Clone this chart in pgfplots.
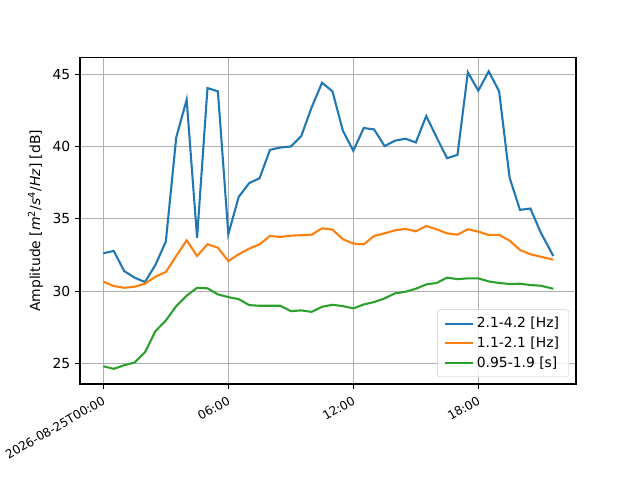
\documentclass[border=0pt]{standalone}
\usepackage{fontspec}
\setmainfont{DejaVu Sans}
\usepackage{pgfplots}
\usepackage{pgfplotstable}
\pgfplotsset{compat=1.18}
\definecolor{C0}{HTML}{1F77B4}
\definecolor{C1}{HTML}{FF7F0E}
\definecolor{C2}{HTML}{2CA02C}
\definecolor{gridc}{HTML}{B0B0B0}
\definecolor{legc}{HTML}{CCCCCC}
\pgfplotstableread{
x a b c
0.0 32.62 30.65 24.79
0.5 32.78 30.35 24.61
1.0 31.39 30.23 24.86
1.5 30.93 30.30 25.05
2.0 30.63 30.51 25.76
2.5 31.81 31.00 27.22
3.0 33.43 31.32 27.96
3.5 40.65 32.43 28.96
4.0 43.26 33.52 29.68
4.5 33.70 32.43 30.23
5.0 44.07 33.24 30.19
5.5 43.84 33.01 29.77
6.0 33.94 32.08 29.58
6.5 36.53 32.55 29.44
7.0 37.48 32.94 29.03
7.5 37.82 33.24 28.98
8.0 39.79 33.82 28.98
8.5 39.95 33.75 28.98
9.0 40.02 33.84 28.61
9.5 40.74 33.87 28.66
10.0 42.73 33.91 28.56
10.5 44.44 34.35 28.91
11.0 43.84 34.26 29.05
11.5 41.11 33.59 28.96
12.0 39.72 33.29 28.80
12.5 41.30 33.24 29.07
13.0 41.20 33.82 29.24
13.5 40.05 34.00 29.49
14.0 40.42 34.21 29.84
14.5 40.56 34.31 29.95
15.0 40.30 34.14 30.16
15.5 42.13 34.51 30.46
16.0 40.65 34.28 30.56
16.5 39.21 34.00 30.93
17.0 39.44 33.91 30.83
17.5 45.16 34.28 30.88
18.0 43.89 34.12 30.88
18.5 45.23 33.89 30.67
19.0 43.84 33.89 30.56
19.5 37.87 33.50 30.49
20.0 35.63 32.85 30.51
20.5 35.72 32.55 30.42
21.0 34.05 32.38 30.37
21.6 32.43 32.18 30.16
}\datatable
\begin{document}
\begin{tikzpicture}
\path[use as bounding box] (-57.6pt,-69.12pt) rectangle (403.2pt,276.48pt);
\begin{axis}[
  at={(0,0)}, anchor=south west,
  scale only axis,
  width=357.12pt, height=235.008pt,
  xmin=-1.12, xmax=22.69,
  ymin=23.56, ymax=46.18,
  xtick={0,6,12,18},
  xticklabels={2026-08-25T00:00,06:00,12:00,18:00},
  ytick={25,30,35,40,45},
  grid=major,
  grid style={color=gridc, line width=0.8pt},
  axis line style={line width=0.8pt},
  tick style={color=black, line width=0.8pt},
  major tick length=3.5pt,
  tick align=outside,
  tick pos=left,
  /pgf/number format/assume math mode=true,
  yticklabel style={font=\fontsize{10}{12}\selectfont},
  xticklabel style={font=\fontsize{8.7}{10}\selectfont, rotate=30, anchor=north east},
  ylabel={Amplitude [\textit{m}\textsuperscript{2}/\textit{s}\textsuperscript{4}/\textit{Hz}] [dB]},
  ylabel style={font=\fontsize{10}{12}\selectfont},
  legend style={at={(1,0)}, anchor=south east, xshift=-5pt, yshift=5pt,
    draw=legc, rounded corners=2pt, fill=white, fill opacity=0.8, text opacity=1,
    inner xsep=5pt, inner ysep=3.5pt, row sep=1pt,
    font=\fontsize{10}{12}\selectfont},
  legend cell align=left,
  legend image code/.code={\draw[#1, line width=1.5pt] (0pt,0pt) -- (20pt,0pt);},
]
\addplot[C0, line width=1.5pt] table[x=x, y=a] {\datatable};
\addlegendentry{2.1-4.2 [Hz]}
\addplot[C1, line width=1.5pt] table[x=x, y=b] {\datatable};
\addlegendentry{1.1-2.1 [Hz]}
\addplot[C2, line width=1.5pt] table[x=x, y=c] {\datatable};
\addlegendentry{0.95-1.9 [s]}
\end{axis}
\end{tikzpicture}
\end{document}
